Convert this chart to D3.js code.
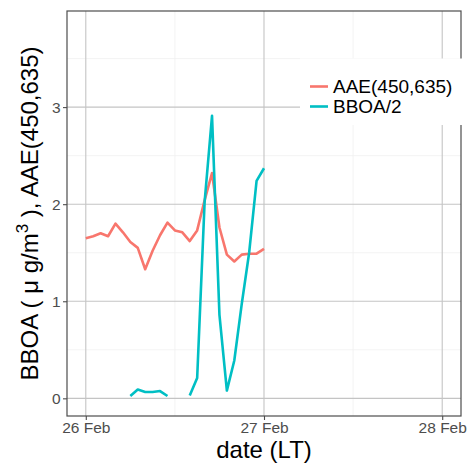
<!DOCTYPE html>
<html>
<head>
<meta charset="utf-8">
<script src="https://cdn.jsdelivr.net/npm/d3@7"></script>
<style>
  html, body { margin: 0; padding: 0; background: #fff; }
  svg { display: block; font-family: "Liberation Sans", Arial, sans-serif; }
</style>
</head>
<body>
<svg id="chart" width="467" height="464"></svg>
<script>
// ---- data (hourly, 26 Feb 00:00 .. 27 Feb 00:00 LT) ----
const hours = [0,1,2,3,4,5,6,7,8,9,10,11,12,13,14,15,16,17,18,19,20,21,22,23,24];
const aae = [1.65,1.67,1.70,1.67,1.80,1.71,1.61,1.55,1.33,1.52,1.68,1.81,1.73,1.71,1.62,1.73,2.04,2.32,1.76,1.48,1.41,1.48,1.49,1.49,1.54];
const bboaHalf = [null,null,null,null,null,null,0.024,0.09,0.065,0.065,0.075,0.024,null,null,0.03,0.21,2.02,2.91,0.86,0.08,0.39,0.97,1.50,2.24,2.37];
const seriesNames = ["AAE(450,635)", "BBOA/2"];
const seriesColors = ["#F8766D", "#00BFC4"];
const xTickDates = ["2024-02-26", "2024-02-27", "2024-02-28"];
const yTicks = [0, 1, 2, 3];
const yMinor = [0.5, 1.5, 2.5, 3.5];

const svg = d3.select("#chart");
const P = { left: 67, right: 461, top: 11, bottom: 416 };

const t0 = new Date(Date.UTC(2024, 1, 26, 0, 0));
const hr = 3600 * 1000;
const x = d3.scaleUtc()
  .domain([new Date(t0.getTime() - 2.53 * hr), new Date(t0.getTime() + 50.53 * hr)])
  .range([P.left, P.right]);
const y = d3.scaleLinear().domain([-0.182, 3.99]).range([P.bottom, P.top]);

const xTicks = xTickDates.map(s => new Date(s + "T00:00:00Z"));
const xMinor = [new Date(t0.getTime() + 12 * hr), new Date(t0.getTime() + 36 * hr)];

// panel background
svg.append("rect").attr("x", P.left).attr("y", P.top)
  .attr("width", P.right - P.left).attr("height", P.bottom - P.top).attr("fill", "#fff");

const grid = svg.append("g");
// minor grid
grid.selectAll(".ymin").data(yMinor).join("line")
  .attr("x1", P.left).attr("x2", P.right)
  .attr("y1", d => y(d)).attr("y2", d => y(d))
  .attr("stroke", "#F0F0F0").attr("stroke-width", 0.8);
grid.selectAll(".xmin").data(xMinor).join("line")
  .attr("y1", P.top).attr("y2", P.bottom)
  .attr("x1", d => x(d)).attr("x2", d => x(d))
  .attr("stroke", "#F0F0F0").attr("stroke-width", 0.8);
// major grid
grid.selectAll(".ymaj").data(yTicks).join("line")
  .attr("x1", P.left).attr("x2", P.right)
  .attr("y1", d => y(d)).attr("y2", d => y(d))
  .attr("stroke", "#C4C4C4").attr("stroke-width", 1.1);
grid.selectAll(".xmaj").data(xTicks).join("line")
  .attr("y1", P.top).attr("y2", P.bottom)
  .attr("x1", d => x(d)).attr("x2", d => x(d))
  .attr("stroke", "#C4C4C4").attr("stroke-width", 1.1);

// lines
const line = d3.line()
  .defined(d => d.v !== null)
  .x(d => x(new Date(t0.getTime() + d.h * hr)))
  .y(d => y(d.v));

const seriesData = [
  hours.map((h, i) => ({ h, v: aae[i] })),
  hours.map((h, i) => ({ h, v: bboaHalf[i] }))
];
seriesData.forEach((data, i) => {
  svg.append("path").datum(data)
    .attr("d", line)
    .attr("fill", "none")
    .attr("stroke", seriesColors[i])
    .attr("stroke-width", 2.6)
    .attr("stroke-linejoin", "round");
});

// panel border
svg.append("rect").attr("x", P.left).attr("y", P.top)
  .attr("width", P.right - P.left).attr("height", P.bottom - P.top)
  .attr("fill", "none").attr("stroke", "#4D4D4D").attr("stroke-width", 1.2);

// axes
const xAxis = d3.axisBottom(x).tickValues(xTicks)
  .tickFormat(d3.utcFormat("%d %b")).tickSizeInner(4).tickSizeOuter(0).tickPadding(2);
const gx = svg.append("g").attr("transform", `translate(0,${P.bottom})`).call(xAxis);
gx.select(".domain").remove();
gx.selectAll(".tick line").attr("stroke", "#4D4D4D").attr("stroke-width", 1.1);
gx.selectAll(".tick text").attr("fill", "#4D4D4D").style("font-size", "15.5px")
  .style("font-family", "'Liberation Sans', Arial, sans-serif");

const yAxis = d3.axisLeft(y).tickValues(yTicks).tickFormat(d3.format("d"))
  .tickSizeInner(4).tickSizeOuter(0).tickPadding(2.5);
const gy = svg.append("g").attr("transform", `translate(${P.left},0)`).call(yAxis);
gy.select(".domain").remove();
gy.selectAll(".tick line").attr("stroke", "#4D4D4D").attr("stroke-width", 1.1);
gy.selectAll(".tick text").attr("fill", "#4D4D4D").style("font-size", "15.5px")
  .style("font-family", "'Liberation Sans', Arial, sans-serif");

// axis titles
svg.append("text").attr("x", (P.left + P.right) / 2).attr("y", 458)
  .attr("text-anchor", "middle").attr("fill", "#000")
  .style("font-size", "24px").text("date (LT)");

const yt = svg.append("text")
  .attr("transform", `translate(38,${(P.top + P.bottom) / 2}) rotate(-90)`)
  .attr("text-anchor", "middle").attr("fill", "#000")
  .style("font-size", "24px");
yt.append("tspan").text("BBOA ( \u03bc g/m");
yt.append("tspan").attr("dy", -10).style("font-size", "17px").text("3");
yt.append("tspan").attr("dy", 10).text(" ), AAE(450,635)");

// legend
const lg = svg.append("g");
lg.append("rect").attr("x", 300).attr("y", 58.5).attr("width", 180).attr("height", 66.5).attr("fill", "#fff");
seriesNames.forEach((name, i) => {
  const cy = 86.5 + i * 20;
  lg.append("line").attr("x1", 310).attr("x2", 328).attr("y1", cy).attr("y2", cy)
    .attr("stroke", seriesColors[i]).attr("stroke-width", 2.6);
  lg.append("text").attr("x", 333).attr("y", cy).attr("dy", "0.35em")
    .attr("fill", "#000").style("font-size", "19px").text(name);
});
</script>
</body>
</html>
